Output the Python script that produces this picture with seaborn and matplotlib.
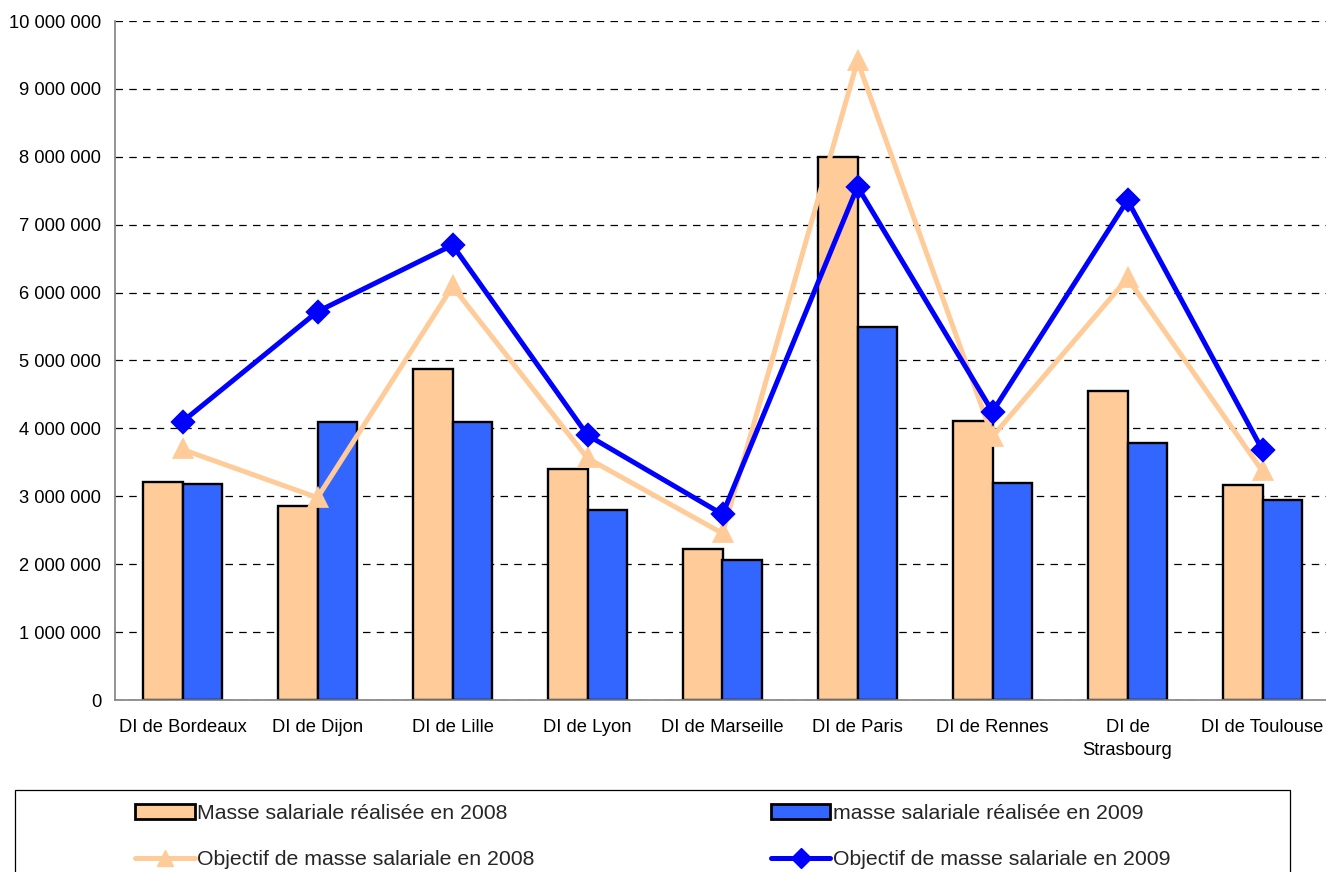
import matplotlib
matplotlib.use("Agg")
import matplotlib.pyplot as plt
from matplotlib.ticker import FuncFormatter, FixedLocator, MultipleLocator
from matplotlib.patches import Patch, Rectangle
from matplotlib.lines import Line2D
import pandas as pd
import seaborn as sns

# Data: wage bill (masse salariale) per interregional directorate
directions = ["DI de Bordeaux", "DI de Dijon", "DI de Lille", "DI de Lyon",
              "DI de Marseille", "DI de Paris", "DI de Rennes",
              "DI de\nStrasbourg", "DI de Toulouse"]
masse_2008 = [3215000, 2850000, 4880000, 3400000, 2220000, 8000000, 4110000, 4550000, 3160000]
masse_2009 = [3180000, 4100000, 4100000, 2800000, 2060000, 5500000, 3200000, 3790000, 2940000]
objectif_2008 = [3690000, 2980000, 6090000, 3560000, 2455000, 9410000, 3880000, 6210000, 3370000]
objectif_2009 = [4100000, 5720000, 6700000, 3900000, 2735000, 7560000, 4245000, 7360000, 3680000]

label_m08 = "Masse salariale réalisée en 2008"
label_m09 = "masse salariale réalisée en 2009"
label_o08 = "Objectif de masse salariale en 2008"
label_o09 = "Objectif de masse salariale en 2009"

ORANGE = "#FFCC99"
BLUE_BAR = "#3366FF"
BLUE_LINE = "#0000FF"

sns.set_style("white")
plt.rcParams["font.family"] = ["Liberation Sans", "DejaVu Sans"]

W, H = 1326, 872
fig = plt.figure(figsize=(W / 100, H / 100), dpi=100)
ax = fig.add_axes([115 / W, (H - 700) / H, (1330 - 115) / W, (700 - 21) / H])

bars = pd.DataFrame({
    "direction": directions * 2,
    "valeur": masse_2008 + masse_2009,
    "serie": [label_m08] * len(directions) + [label_m09] * len(directions),
})

sns.barplot(data=bars, x="direction", y="valeur", hue="serie",
            hue_order=[label_m08, label_m09], order=directions,
            palette=[ORANGE, BLUE_BAR], width=0.58, gap=0,
            edgecolor="black", linewidth=1.7, saturation=1,
            legend=False, ax=ax, zorder=2)

sns.pointplot(x=directions, y=objectif_2008, order=directions, color=ORANGE,
              markers="^", linestyles="-", errorbar=None, ax=ax,
              markersize=12, linewidth=3.6, zorder=3)
sns.pointplot(x=directions, y=objectif_2009, order=directions, color=BLUE_LINE,
              markers="D", linestyles="-", errorbar=None, ax=ax,
              markersize=10.5, linewidth=3.6, zorder=4)

# Axes, ticks and grid
ax.set_xlim(-0.5, len(directions) - 0.5)
ax.set_ylim(0, 10_000_000)
ax.yaxis.set_major_locator(MultipleLocator(1_000_000))
ax.yaxis.set_major_formatter(FuncFormatter(lambda v, p: f"{int(v):,}".replace(",", " ")))
ax.xaxis.set_minor_locator(FixedLocator([i - 0.5 for i in range(len(directions) + 1)]))
ax.tick_params(axis="x", which="major", length=0, pad=14, labelsize=13.2, colors="black")
ax.tick_params(axis="x", which="minor", length=6, width=1, color="#808080", direction="out")
ax.tick_params(axis="y", which="major", length=6, width=1, color="#808080", direction="out",
               labelsize=13.2, labelcolor="black", pad=4)
for lbl in ax.get_xticklabels():
    lbl.set_linespacing(1.45)
ax.set_xlabel("")
ax.set_ylabel("")

ax.grid(axis="y", color="black", linestyle=(0, (6, 5)), linewidth=0.9, zorder=0)
ax.set_axisbelow(True)
for side in ("top", "right"):
    ax.spines[side].set_visible(False)
for side in ("left", "bottom"):
    ax.spines[side].set_color("#808080")
    ax.spines[side].set_linewidth(1.2)
    ax.spines[side].set_zorder(5)

# Legend below the chart, framed by a box that runs off the bottom edge
handles = [
    Patch(facecolor=ORANGE, edgecolor="black", linewidth=2, label=label_m08),
    Line2D([], [], color=ORANGE, marker="^", markersize=12, linewidth=3.6, label=label_o08),
    Patch(facecolor=BLUE_BAR, edgecolor="black", linewidth=2, label=label_m09),
    Line2D([], [], color=BLUE_LINE, marker="D", markersize=10.5, linewidth=3.6, label=label_o09),
]
fig.legend(handles=handles, ncol=2, loc="upper left",
           bbox_to_anchor=(135 / W, 1 - 804 / H), frameon=False,
           fontsize=15.3, handlelength=2.8, handleheight=0.66, handletextpad=0.1,
           columnspacing=11.15, labelspacing=1.28, borderpad=0, borderaxespad=0)
fig.add_artist(Rectangle((15 / W, -0.05), (1290 - 15) / W, 0.05 + (H - 790) / H,
                         transform=fig.transFigure, fill=False,
                         edgecolor="black", linewidth=0.9))

fig.savefig("out.png", dpi=100)
